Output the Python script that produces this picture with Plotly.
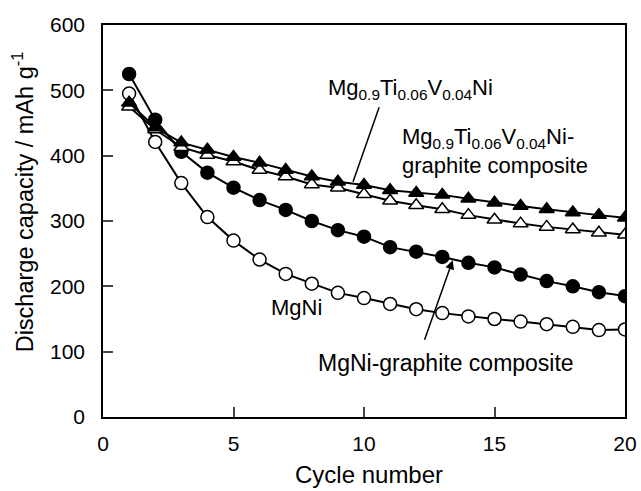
import plotly.graph_objects as go

cycles = list(range(1, 21))
mgni = [495, 421, 358, 306, 270, 241, 219, 204, 190, 182, 173, 165, 159, 154, 150, 146, 142, 138, 133, 134]
mgni_graphite = [525, 455, 406, 374, 351, 332, 317, 300, 286, 276, 260, 253, 245, 236, 229, 218, 208, 200, 191, 185]
mgtiv = [475, 440, 413, 401, 391, 378, 368, 356, 351, 341, 331, 324, 318, 309, 302, 296, 291, 287, 282, 279]
mgtiv_graphite = [481, 443, 420, 409, 398, 389, 378, 368, 360, 355, 347, 343, 340, 334, 328, 323, 318, 313, 309, 305]

x_ticks = [0, 5, 10, 15, 20]
y_ticks = [0, 100, 200, 300, 400, 500, 600]

FONT = "Liberation Sans, Arial, sans-serif"
fig = go.Figure()

def add(y, symbol, fill, name):
    fig.add_trace(go.Scatter(
        x=cycles, y=y, mode="lines+markers", name=name,
        line=dict(color="black", width=2),
        marker=dict(symbol=symbol, size=13, color=fill,
                    line=dict(color="black", width=1.5)),
        showlegend=False))

add(mgni, "circle", "white", "MgNi")
add(mgni_graphite, "circle", "black", "MgNi-graphite composite")
add(mgtiv, "triangle-up", "white", "Mg0.9Ti0.06V0.04Ni")
add(mgtiv_graphite, "triangle-up", "black", "Mg0.9Ti0.06V0.04Ni-graphite composite")

fig.update_layout(
    width=641, height=491,
    margin=dict(l=103, r=16, t=25, b=74),
    paper_bgcolor="white", plot_bgcolor="white",
    font=dict(family=FONT, size=21, color="black"),
    xaxis=dict(range=[0, 20], tickvals=x_ticks, ticks="inside", ticklen=10, tickwidth=1.5,
               ticklabelstandoff=7, automargin=False,
               showline=True, linecolor="black", linewidth=1.5, mirror=True, showgrid=False,
               zeroline=False),
    yaxis=dict(range=[0, 600], tickvals=y_ticks, ticks="inside", ticklen=10, tickwidth=1.5,
               ticklabelstandoff=12, automargin=False,
               showline=True, linecolor="black", linewidth=1.5, mirror=True, showgrid=False,
               zeroline=False),
)

fig.add_annotation(text="Cycle number", xref="paper", yref="paper", x=0.51, y=-0.146,
                   showarrow=False, xanchor="center", yanchor="middle", font=dict(size=24))
fig.add_annotation(text="Discharge capacity / mAh g<sup>-1</sup>", xref="paper", yref="paper",
                   x=-0.153, y=0.548, textangle=-90, showarrow=False, xanchor="center", yanchor="middle",
                   font=dict(size=23.5))

fig.add_annotation(text="Mg<sub>0.9</sub>Ti<sub>0.06</sub>V<sub>0.04</sub>Ni", x=11.8, y=502,
                   showarrow=False, xanchor="center", yanchor="middle", font=dict(size=22))
fig.add_shape(type="line", x0=10.58, y0=474, x1=9.58, y1=360, line=dict(color="black", width=1.5))

fig.add_annotation(text="Mg<sub>0.9</sub>Ti<sub>0.06</sub>V<sub>0.04</sub>Ni-<br>graphite composite",
                   x=11.38, y=407, showarrow=False, xanchor="left", yanchor="middle", align="left",
                   font=dict(size=22))

fig.add_annotation(text="MgNi", x=7.43, y=167, showarrow=False, font=dict(size=22))

fig.add_annotation(text="MgNi-graphite composite", x=13.14, y=83, showarrow=False, font=dict(size=23))
fig.add_annotation(x=13.4, y=240, ax=12.3, ay=116, axref="x", ayref="y", xref="x", yref="y",
                   text="", showarrow=True, arrowhead=2, arrowsize=1.2, arrowwidth=1.5, arrowcolor="black")

fig.write_html("out.html")
